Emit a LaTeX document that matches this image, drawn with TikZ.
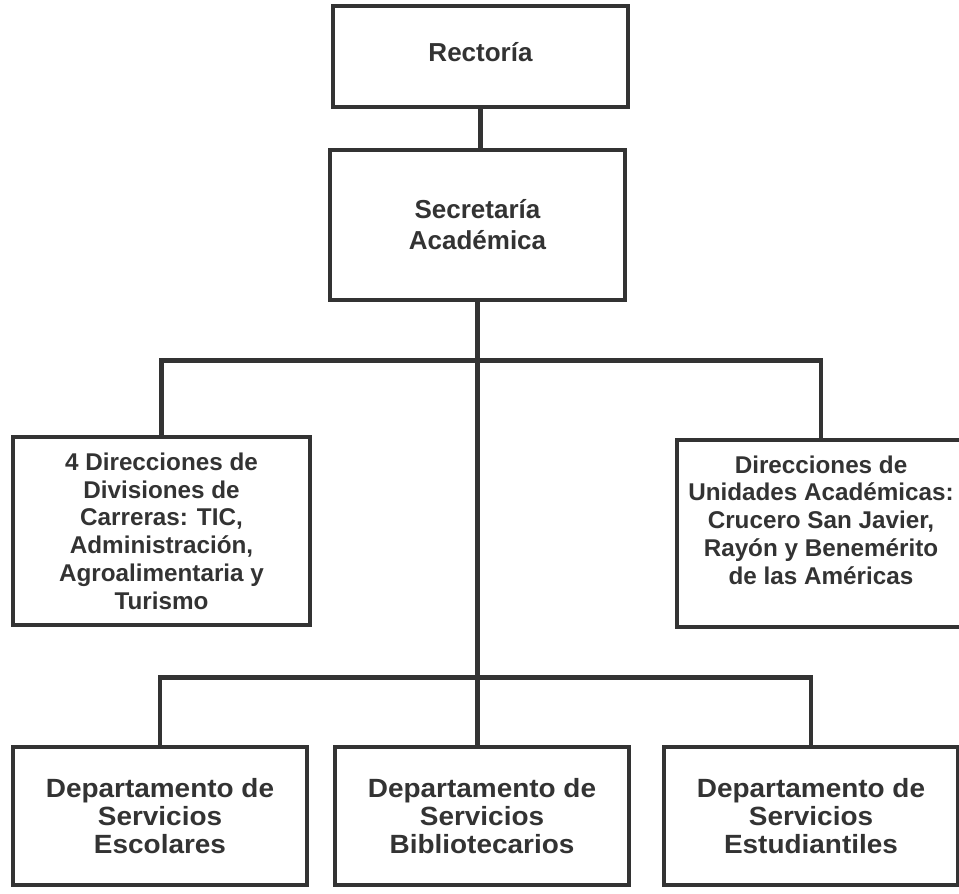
\documentclass[tikz,border=0pt]{standalone}
\usepackage{fontspec}
\setmainfont{Liberation Sans}
\newfontfamily\deptfont{Liberation Sans}[FakeStretch=1.06]
\definecolor{ink}{HTML}{333333}
\tikzset{
  orgbox/.style={draw=ink, line width=2.6pt, text=ink, align=center},
  topbox/.style={orgbox, minimum width=5.9cm, font=\bfseries\fontsize{14.8}{17.6}\selectfont},
  sidebox/.style={orgbox, font=\bfseries\fontsize{13.8}{15.8}\selectfont},
  deptbox/.style={orgbox, minimum width=5.88cm, minimum height=2.76cm, text depth=-0.1cm, font=\deptfont\bfseries\fontsize{15}{15.9}\selectfont},
  link/.style={draw=ink, line width=2.6pt}
}

\begin{document}
\begin{tikzpicture}
\useasboundingbox (0,0) rectangle (19.18,-17.86);
\node[topbox, minimum height=2.02cm, text depth=0.2cm] (rect) at (9.61,-1.13) {Rectoría};
\node[topbox, minimum height=3.0cm] (secr) at (9.55,-4.5) {Secretaría\\Académica};
\node[sidebox, minimum width=5.94cm, minimum height=3.76cm] (divc) at (3.23,-10.62)
  {4 Direcciones de\\Divisiones de\\Carreras: TIC,\\Administración,\\Agroalimentaria y\\Turismo};
\node[sidebox, minimum width=5.76cm, minimum height=3.74cm, text depth=0.55cm] (unid) at (16.42,-10.67)
  {Direcciones de\\Unidades Académicas:\\Crucero San Javier,\\Rayón y Benemérito\\de las Américas};
\node[deptbox] (depE) at (3.2,-16.32) {Departamento de\\Servicios\\Escolares};
\node[deptbox] (depB) at (9.64,-16.32) {Departamento de\\Servicios\\Bibliotecarios};
\node[deptbox] (depS) at (16.22,-16.32) {Departamento de\\Servicios\\Estudiantiles};
\draw[link] (rect.south) -- (rect.south |- secr.north);
\draw[link] (secr.south) -- (secr.south |- depB.north);
\draw[link] (divc.north) -- ++(0,1.48) -| (unid.north);
\draw[link] (depE.north) -- ++(0,1.34) -| (depS.north);
\end{tikzpicture}
\end{document}
